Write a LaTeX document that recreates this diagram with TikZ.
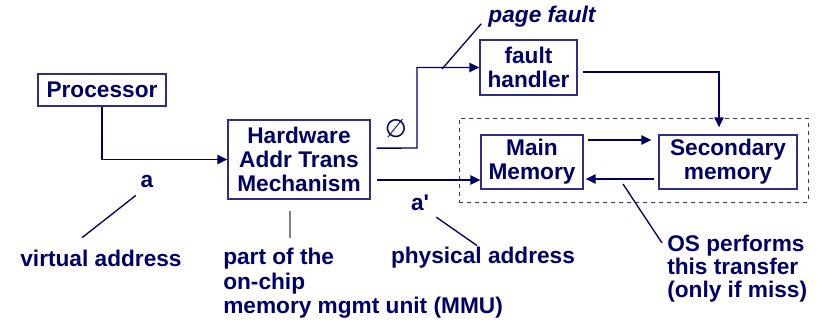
\documentclass[tikz,border=0pt]{standalone}
\usepackage{fontspec}
\setmainfont{Liberation Sans}
\newfontfamily\symfont{DejaVu Sans}
\usetikzlibrary{arrows.meta}
\definecolor{ink}{HTML}{000066}
\definecolor{rim}{HTML}{2E2E8A}

\begin{document}
\begin{tikzpicture}[x=0.75pt,y=-0.75pt,
    every node/.style={text=ink, font=\fontsize{17}{18}\selectfont\bfseries, inner sep=0pt},
    box/.style={draw=rim, line width=1pt, align=center},
    link/.style={draw=ink, line width=1.1pt, -{Triangle[length=7.5pt,width=7pt]}},
    lead/.style={draw=ink, line width=1pt},
    note/.style={align=left, anchor=north west}]
  \useasboundingbox (0,0) rectangle (823,322);

  % boxes
  \node (proc) [box, minimum width=96pt, minimum height=24pt] at (102,90) {Processor};
  \node (hw) [box, minimum width=106.5pt, minimum height=59.25pt] at (299,159.5) {Hardware\\Addr Trans\\Mechanism};
  \node (fault) [box, minimum width=72.75pt, minimum height=41.25pt] at (528.5,67.5) {fault\\handler};
  \node (cache) [draw=rim, dashed, line width=0.6pt, minimum width=261.75pt, minimum height=63pt] at (633.5,160) {};
  \node (main) [box, minimum width=76.5pt, minimum height=40.5pt] at (532,162) {Main\\Memory};
  \node (sec) [box, minimum width=103.5pt, minimum height=40.5pt] at (728,162) {Secondary\\memory};

  % labels
  \node (a) at (147,182) {a};
  \node (vaddr) at (101,258) {virtual address};
  \node (part) [note, font=\fontsize{17}{18.4}\selectfont\bfseries] at (223,248) {part of the\\on-chip\\memory mgmt unit (MMU)};
  \node (ap) at (420,203) {a\textquotesingle};
  \node (paddr) at (483,258) {physical address};
  \node (os) [note, font=\fontsize{17}{17}\selectfont\bfseries] at (667,235) {OS performs\\this transfer\\(only if miss)};
  \node (pf) [font=\fontsize{17}{18}\selectfont\bfseries\itshape] at (542,17) {page fault};
  \node (empty) [font=\fontsize{19}{19}\selectfont\symfont] at (396,129) {∅};

  \coordinate (bend) at (417,148);
  \coordinate (hwhigh) at ([yshift=8.6pt]hw.east);
  \coordinate (hwlow) at ([yshift=-15.4pt]hw.east);
  \coordinate (mtop) at ([yshift=16.5pt]main.east);
  \coordinate (sbot) at ([yshift=-12.75pt]sec.west);
  \coordinate (hwfoot) at ([xshift=-6.75pt]hw.south);
  \coordinate (pfhit) at (442,69);
  \coordinate (xfer) at (623,184);

  % connectors
  \draw[link] (proc.south) |- (hw.west);
  \draw[link, shorten <=4.5pt] (hwhigh) -- (bend) |- (fault.west);
  \draw[link, shorten <=4.5pt] (hwlow) -- (hwlow -| main.west);
  \draw[link, shorten <=3pt, shorten >=5.25pt] (mtop) -- (mtop -| sec.west);
  \draw[link, shorten <=3pt, shorten >=1.5pt] (sbot) -- (sbot -| main.east);
  \draw[link, shorten <=3.75pt, shorten >=5.25pt] ([yshift=-3.4pt]fault.east) -| ([xshift=-6.75pt]sec.north);

  % leader lines
  \draw[lead] ([shift={(-3.5pt,-5.25pt)}]a.south west) -- ([shift={(-14.25pt,8.8pt)}]vaddr.north);
  \draw[lead, draw=gray, shorten <=8.25pt, shorten >=7.5pt] (hwfoot) -- (hwfoot |- part.north);
  \draw[lead] ([shift={(5.25pt,-4.5pt)}]ap.south east) -- ([shift={(-4.5pt,1.2pt)}]paddr.north);
  \draw[lead] (xfer) -- ([shift={(-3.75pt,-6pt)}]os.north west);
  \draw[lead] ([shift={(-5.25pt,3pt)}]pf.south west) -- (pfhit);
\end{tikzpicture}
\end{document}
